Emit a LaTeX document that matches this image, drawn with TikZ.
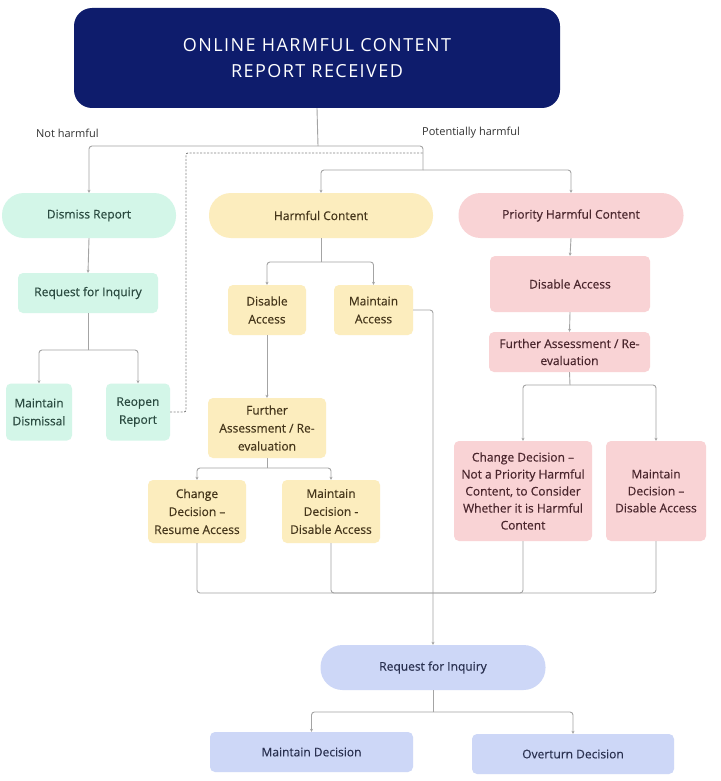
\documentclass[tikz,border=0pt]{standalone}
\usepackage{fontspec}
\setmainfont{Open Sans}
\newfontfamily\nodefont[FakeBold=0.4]{Open Sans}
\usetikzlibrary{arrows.meta}
\definecolor{navy}{HTML}{0E1C6C}
\definecolor{mintf}{HTML}{D3F6E8}
\definecolor{mintt}{HTML}{2A4A40}
\definecolor{yelf}{HTML}{FCEDBE}
\definecolor{yelt}{HTML}{45361B}
\definecolor{pinkf}{HTML}{F9D3D5}
\definecolor{pinkt}{HTML}{4A262D}
\definecolor{bluef}{HTML}{CDD7F7}
\definecolor{bluet}{HTML}{2A3150}
\definecolor{lgray}{HTML}{A4A4A4}
\tikzset{
  box/.style={rectangle, rounded corners=5pt, inner sep=2pt, align=center, font=\nodefont\fontsize{12}{18}\selectfont},
  pill/.style={box, rounded corners=22pt, minimum height=45pt},
  mint/.style={fill=mintf, text=mintt},
  yel/.style={fill=yelf, text=yelt},
  pnk/.style={fill=pinkf, text=pinkt},
  blu/.style={fill=bluef, text=bluet},
  conn/.style={draw=lgray, line width=0.9pt, rounded corners=3pt, -{Stealth[length=3pt,width=3pt]}},
  plain/.style={draw=lgray, line width=0.9pt, rounded corners=3pt},
  dashline/.style={draw=lgray!80!black, line width=0.9pt, dash pattern=on 2pt off 1.5pt, rounded corners=2pt},
  lbl/.style={anchor=west, inner sep=0pt, text=black!80, font=\fontsize{11}{13}\selectfont}
}
\begin{document}
\begin{tikzpicture}[x=1pt,y=-1pt]
\useasboundingbox (0,0) rectangle (720,781);
\fill[white] (0,0) rectangle (720,781);
% top
\node[rectangle, rounded corners=18pt, fill=navy, text=white, minimum width=486pt, minimum height=100pt, align=center,
  font=\fontsize{18}{26}\selectfont\addfontfeatures{LetterSpace=8}] (top) at (317,58) {ONLINE HARMFUL CONTENT\\REPORT RECEIVED};
\node[lbl] (nh) at (36,133) {Not harmful};
\node[lbl] (ph) at (422,133) {Potentially harmful};
% level 1
\node[pill, mint, minimum width=174pt] (dismiss) at (89,215.5) {Dismiss Report};
\node[pill, yel, minimum width=224pt] (harm) at (321,215.5) {Harmful Content};
\node[pill, pnk, minimum width=225pt] (prio) at (571,215.5) {Priority Harmful Content};
% mint branch
\node[box, mint, minimum width=140pt, minimum height=40pt] (rfi1) at (88,293) {Request for Inquiry};
\node[box, mint, minimum width=66pt, minimum height=57pt] (mdis) at (39,412) {Maintain\\Dismissal};
\node[box, mint, minimum width=64pt, minimum height=57pt] (reopen) at (138,412) {Reopen\\Report};
% yellow branch
\node[box, yel, minimum width=78pt, minimum height=50pt] (dis1) at (267,310) {Disable\\Access};
\node[box, yel, minimum width=79pt, minimum height=50pt] (macc) at (373.5,310) {Maintain\\Access};
\node[box, yel, minimum width=118pt, minimum height=60pt] (fa1) at (267,428) {Further\\Assessment / Re-\\evaluation};
\node[box, yel, minimum width=98pt, minimum height=63pt] (cd1) at (197,511.5) {Change\\Decision –\\Resume Access};
\node[box, yel, minimum width=98pt, minimum height=63pt] (md1) at (331,511.5) {Maintain\\Decision -\\Disable Access};
% pink branch
\node[box, pnk, minimum width=160pt, minimum height=56pt] (dis2) at (570,284) {Disable Access};
\node[box, pnk, minimum width=161pt, minimum height=40pt, font=\nodefont\fontsize{12}{17}\selectfont] (fa2) at (569.5,352) {Further Assessment / Re-\\evaluation};
\node[box, pnk, minimum width=138pt, minimum height=100pt, font=\nodefont\fontsize{12}{17}\selectfont] (cd2) at (523,491) {Change Decision –\\Not a Priority Harmful\\Content, to Consider\\Whether it is Harmful\\Content};
\node[box, pnk, minimum width=100pt, minimum height=100pt, font=\nodefont\fontsize{12}{17}\selectfont] (md2) at (656,491) {Maintain\\Decision –\\Disable Access};
% blue
\node[pill, blu, minimum width=225pt] (rfi2) at (433,667.5) {Request for Inquiry};
\node[box, blu, minimum width=203pt, minimum height=40pt] (mdec) at (311.5,752) {Maintain Decision};
\node[box, blu, minimum width=202pt, minimum height=40pt] (over) at (573,754) {Overturn Decision};
% junctions
\coordinate (j1) at (318,146);
\coordinate (j2) at (423,170);
\coordinate (d1) at (186,153);
\coordinate (d2) at (423,153);
\coordinate (j3) at (88,350);
\coordinate (j4) at (321,262);
\coordinate (j5) at (267,468);
\coordinate (j6) at (570,385);
\coordinate (m) at (433,593);
\coordinate (j7) at (433,712);
% connectors
\draw[plain] (top.south) -- (j1);
\draw[conn] (j1) -| (dismiss.north);
\draw[plain] (j1) -| (j2);
\draw[conn] (j2) -| (harm.north);
\draw[conn] (j2) -| (prio.north);
\draw[dashline] (reopen.east) -| (d1) -- (d2);
\draw[conn] (dismiss.south) -- (rfi1.north);
\draw[plain] (rfi1.south) -- (j3);
\draw[conn] (j3) -| (mdis.north);
\draw[conn] (j3) -| (reopen.north);
\draw[plain] (harm.south) -- (j4);
\draw[conn] (j4) -| (dis1.north);
\draw[conn] (j4) -| (macc.north);
\draw[conn] (dis1.south) -- (fa1.north);
\draw[plain] (fa1.south) -- (j5);
\draw[conn] (j5) -| (cd1.north);
\draw[conn] (j5) -| (md1.north);
\draw[conn] (prio.south) -- (dis2.north);
\draw[conn] (dis2.south) -- (fa2.north);
\draw[plain] (fa2.south) -- (j6);
\draw[conn] (j6) -| (cd2.north);
\draw[conn] (j6) -| (md2.north);
\draw[plain] (cd1.south) |- (m);
\draw[plain] (md1.south) |- (m);
\draw[plain] (cd2.south) |- (m);
\draw[plain] (md2.south) |- (m);
\draw[conn] (macc.east) -| (rfi2.north);
\draw[plain] (rfi2.south) -- (j7);
\draw[conn] (j7) -| (mdec.north);
\draw[conn] (j7) -| (over.north);
\end{tikzpicture}
\end{document}
